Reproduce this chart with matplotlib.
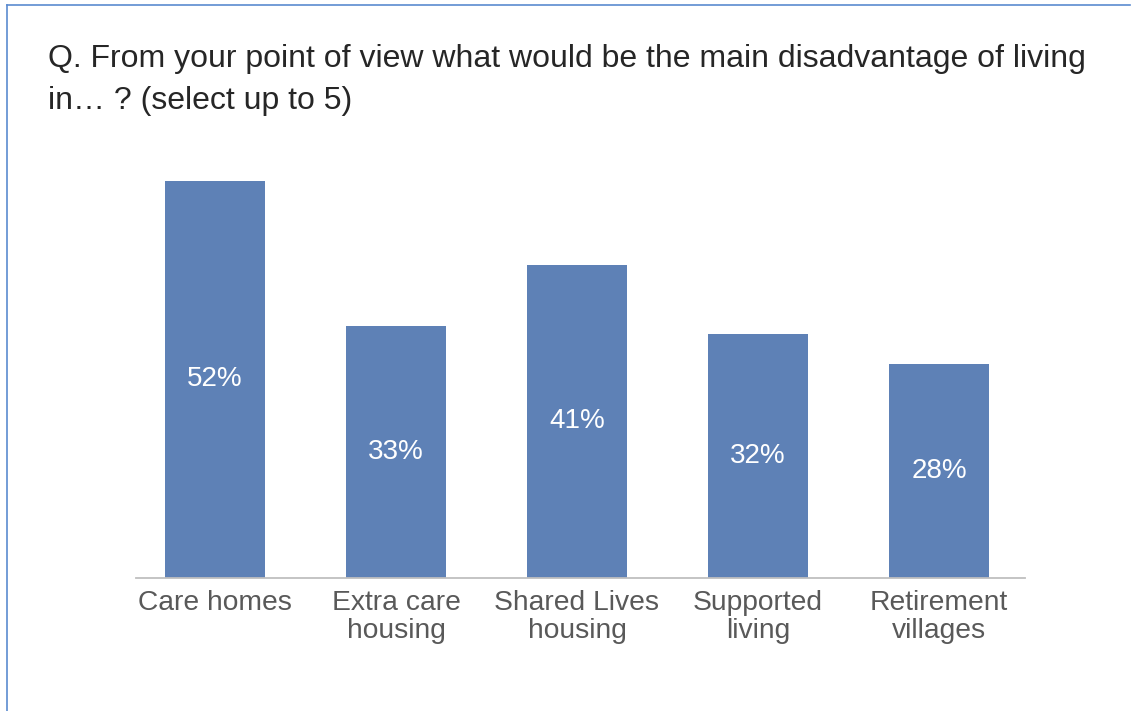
import matplotlib
matplotlib.use("Agg")
import matplotlib.pyplot as plt
from matplotlib.lines import Line2D

categories = ["Care homes", "Extra care\nhousing", "Shared Lives\nhousing", "Supported\nliving", "Retirement\nvillages"]
values = [52, 33, 41, 32, 28]
value_labels = ["52%", "33%", "41%", "32%", "28%"]
title = "Q. From your point of view what would be the main disadvantage of living\nin\u2026 ? (select up to 5)"

plt.rcParams['font.family'] = ['Liberation Sans', 'DejaVu Sans']

W, H = 1132, 711
fig = plt.figure(figsize=(W / 100, H / 100), dpi=100)
fig.patch.set_facecolor("white")

# axes: x from 136 to 1025 px, bottom at 578 px, top at 120 px
left, right, bottom, top = 136, 1025, 578, 120
ax = fig.add_axes([left / W, 1 - bottom / H, (right - left) / W, (bottom - top) / H])
scale = (578 - 181) / 52.0
ymax = (bottom - top) / scale

x = list(range(len(categories)))
bars = ax.bar(x, values, width=0.55, color="#5E81B6", zorder=2)
ax.set_xlim(-0.436, 4.475)
ax.set_ylim(0, ymax)

for xi, v, lab in zip(x, values, value_labels):
    ax.text(xi, v / 2, lab, ha="center", va="center", color="white", fontsize=20)

for s in ["top", "right", "left"]:
    ax.spines[s].set_visible(False)
ax.spines["bottom"].set_color("#BFBFBF")
ax.spines["bottom"].set_linewidth(1.3)
ax.set_yticks([])
ax.set_xticks(x)
ax.set_xticklabels(categories, fontsize=20.3, color="#595959", linespacing=1.1)
ax.tick_params(axis="x", length=0, pad=9)

fig.text(48 / W, 1 - 44 / H, title, ha="left", va="top", fontsize=23, color="#262626", linespacing=1.5)

# border lines (left and top)
bc = "#5B8BD0"
fig.add_artist(Line2D([6.5 / W, 6.5 / W], [0, 1 - 5 / H], color=bc, lw=1.2, transform=fig.transFigure))
fig.add_artist(Line2D([6.5 / W, 1130 / W], [1 - 5 / H, 1 - 5 / H], color=bc, lw=1.2, transform=fig.transFigure))

fig.savefig("out.png", dpi=100, facecolor="white")
